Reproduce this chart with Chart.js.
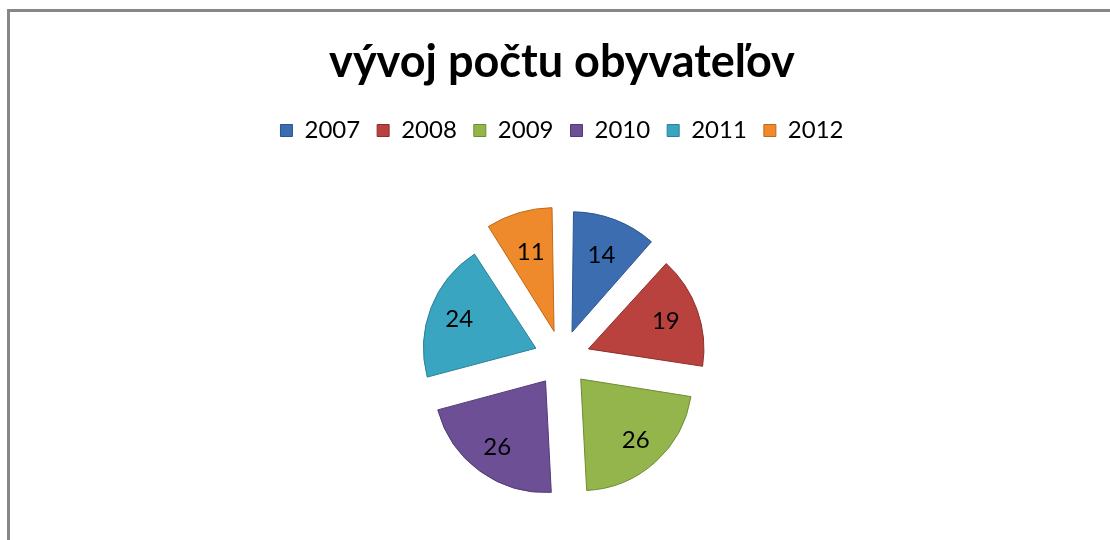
<!DOCTYPE html>
<html lang="sk">
<head>
    <meta charset="UTF-8">
    <title>vývoj počtu obyvateľov</title>
    <script src="https://cdn.jsdelivr.net/npm/chart.js"></script>
    <style>
        html, body { margin: 0; padding: 0; background: #fff; overflow: hidden; }
        #wrap { position: relative; width: 1110px; height: 540px; overflow: hidden; }
        #frame {
            position: absolute; left: 7px; top: 9px; right: -10px; bottom: -10px;
            border-top: 3px solid #878787; border-left: 3px solid #878787;
        }
        #pieCanvas { position: absolute; left: 0; top: 0; }
    </style>
</head>
<body>
<div id="wrap">
    <div id="frame"></div>
    <canvas id="pieCanvas" width="1110" height="564"></canvas>
</div>
<script>
    // data
    const years = ['2007', '2008', '2009', '2010', '2011', '2012'];
    const residents = [14, 19, 26, 26, 24, 11];
    const sliceColors = ['#3b6db0', '#b9413e', '#93b54b', '#6c4f95', '#39a5c1', '#ee8a2b'];
    const edgeColors = ['#2b558f', '#8f2f2d', '#6f8c33', '#523a75', '#2a8099', '#c26816'];

    // numbers inside slices
    const sliceLabels = {
        id: 'sliceLabels',
        afterDatasetsDraw(chart) {
            const ctx = chart.ctx;
            const meta = chart.getDatasetMeta(0);
            ctx.save();
            ctx.font = '24px Lato';
            ctx.fillStyle = '#000';
            ctx.textAlign = 'center';
            ctx.textBaseline = 'middle';
            meta.data.forEach((arc, i) => {
                const mid = (arc.startAngle + arc.endAngle) / 2;
                const shift = (arc.options.offset || 0) / 4;
                const d = shift + arc.outerRadius * 0.74;
                ctx.fillText(residents[i], arc.x + Math.cos(mid) * d, arc.y + Math.sin(mid) * d);
            });
            ctx.restore();
        }
    };

    // light body, darker rim
    function shade(c) {
        const chart = c.chart;
        const meta = chart.getDatasetMeta(0);
        const arc = meta.data[c.dataIndex];
        if (!arc || !arc.outerRadius) return sliceColors[c.dataIndex];
        const g = chart.ctx.createRadialGradient(arc.x, arc.y, 0, arc.x, arc.y, arc.outerRadius + 30);
        g.addColorStop(0, sliceColors[c.dataIndex]);
        g.addColorStop(0.8, sliceColors[c.dataIndex]);
        g.addColorStop(1, edgeColors[c.dataIndex]);
        return g;
    }

    new Chart(document.getElementById('pieCanvas'), {
        type: 'pie',
        data: {
            labels: years,
            datasets: [{
                data: residents,
                backgroundColor: shade,
                borderColor: edgeColors,
                borderWidth: 1,
                offset: 112,
                radius: 111
            }]
        },
        options: {
            responsive: false,
            animation: false,
            layout: { padding: { left: 14 } },
            plugins: {
                title: {
                    display: true,
                    text: 'vývoj počtu obyvateľov',
                    color: '#000',
                    font: { family: 'Lato', size: 45, weight: 'bold' },
                    padding: { top: 35, bottom: 12.5 }
                },
                legend: {
                    position: 'top',
                    labels: {
                        color: '#000',
                        font: { family: 'Lato', size: 24 },
                        boxWidth: 12,
                        boxHeight: 12,
                        padding: 17,
                        generateLabels(chart) {
                            return years.map((y, i) => ({
                                text: y,
                                fillStyle: sliceColors[i],
                                strokeStyle: edgeColors[i],
                                lineWidth: 1,
                                fontColor: '#000',
                                index: i
                            }));
                        }
                    }
                },
                tooltip: { enabled: false }
            }
        },
        plugins: [sliceLabels]
    });
</script>
</body>
</html>
